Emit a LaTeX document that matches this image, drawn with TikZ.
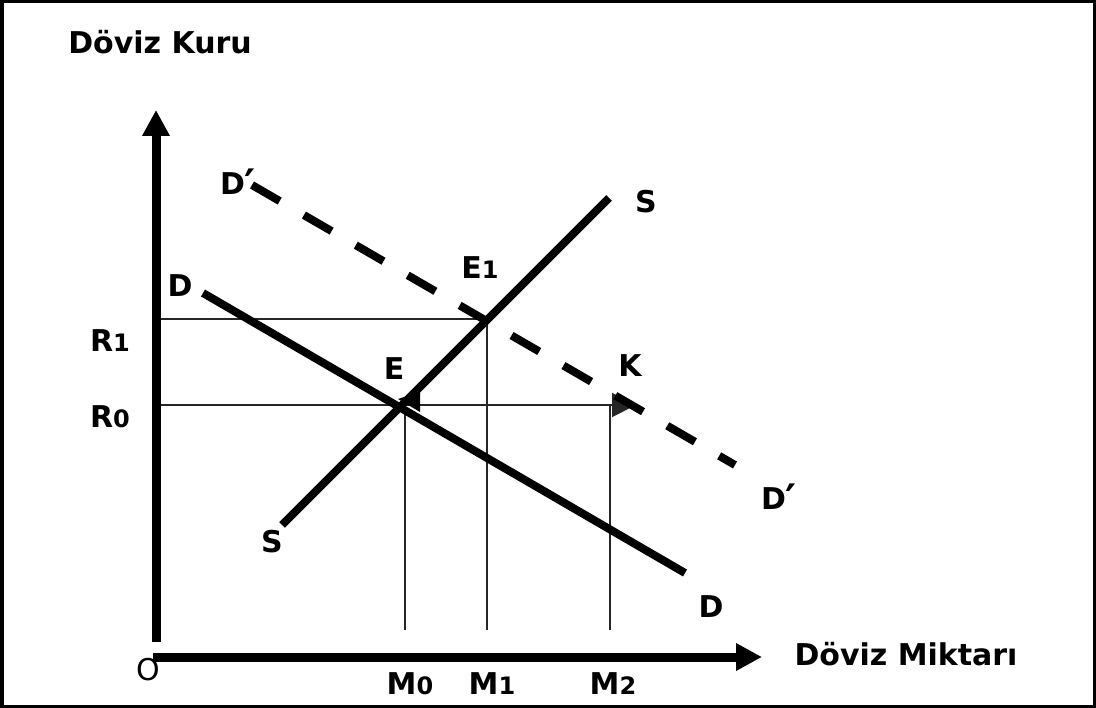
\documentclass[tikz,border=0pt]{standalone}
\usepackage{fontspec}
\setmainfont{DejaVu Sans}
\usetikzlibrary{arrows.meta}
\newcommand\dg[1]{{\fontsize{24}{24}\selectfont #1}}
\newcommand\prm{\raisebox{-5pt}{\fontsize{42}{42}\selectfont ′}}
\begin{document}
\begin{tikzpicture}[x=1pt,y=-1pt,
 lbl/.style={font=\fontsize{30}{32}\selectfont\bfseries, inner sep=0pt, anchor=base},
 curve/.style={line width=8pt},
 dcurve/.style={line width=8pt, dash pattern=on 32pt off 28pt},
 guide/.style={line width=2pt, draw=black!85},
 axis/.style={line width=9pt, -{Triangle[length=26pt,width=26pt]}}]
\useasboundingbox (0,0) rectangle (1096,708);
% frame
\fill (0,0) rectangle (1096,3);
\fill (0,0) rectangle (4,708);
\fill (1093,0) rectangle (1096,708);
\fill (0,705) rectangle (1096,708);
% coordinates
\coordinate (yb) at (156,642);
\coordinate (yt) at (156,110);
\coordinate (xl) at (153,657);
\coordinate (xr) at (762,657);
\coordinate (D1) at (203,293);
\coordinate (D2) at (685,573);
\coordinate (S1) at (282,525);
\coordinate (S2) at (609,198);
\coordinate (Dp1) at (252,185);
\coordinate (Dp2) at (735,465);
\coordinate (r1) at (160,319);
\coordinate (e1) at (487,319);
\coordinate (r0) at (160,405);
\coordinate (e) at (405,405);
\coordinate (k) at (636,405);
\coordinate (m0) at (405,630);
\coordinate (m1) at (487,630);
\coordinate (m2) at (610,630);
\coordinate (k2) at (610,405);
% O label under axes
\node[lbl, font=\fontsize{30}{32}\selectfont] (O) at (148,680) {O};
% guides
\draw[guide] (r1) -- (e1);
\draw[guide] (e1) -- (m1);
\draw[guide] (e) -- (m0);
\draw[guide] (k2) -- (m2);
\draw[guide, -{Triangle[length=24pt,width=24pt]}] (r0) -- (k);
% curves
\draw[curve] (D1) -- (D2);
\draw[curve] (S1) -- (S2);
\draw[dcurve] (Dp1) -- (Dp2);
\fill (398,399) -- (420,392) -- (420,412) -- cycle;
% axes
\draw[axis] (yb) -- (yt);
\draw[axis] (xl) -- (xr);
% labels
\node[lbl] (yl) at (160,54) {Döviz Kuru};
\node[lbl] (xlab) at (906,665) {Döviz Miktarı};
\node[lbl] (dpt) at (238,195) {D\prm};
\node[lbl] (dl) at (180,297) {D};
\node[lbl] (st) at (646,213) {S};
\node[lbl] (sb) at (272,553) {S};
\node[lbl] (dbr) at (711,617) {D};
\node[lbl] (dpr) at (779,510) {D\prm};
\node[lbl] (kl) at (630,377) {K};
\node[lbl] (el) at (394,380) {E};
\node[lbl] (e1l) at (480,279) {E\dg{1}};
\node[lbl] (r1l) at (110,352) {R\dg{1}};
\node[lbl] (r0l) at (110,428) {R\dg{0}};
\node[lbl] (m0l) at (410,694) {M\dg{0}};
\node[lbl] (m1l) at (492,694) {M\dg{1}};
\node[lbl] (m2l) at (613,694) {M\dg{2}};
\end{tikzpicture}
\end{document}
